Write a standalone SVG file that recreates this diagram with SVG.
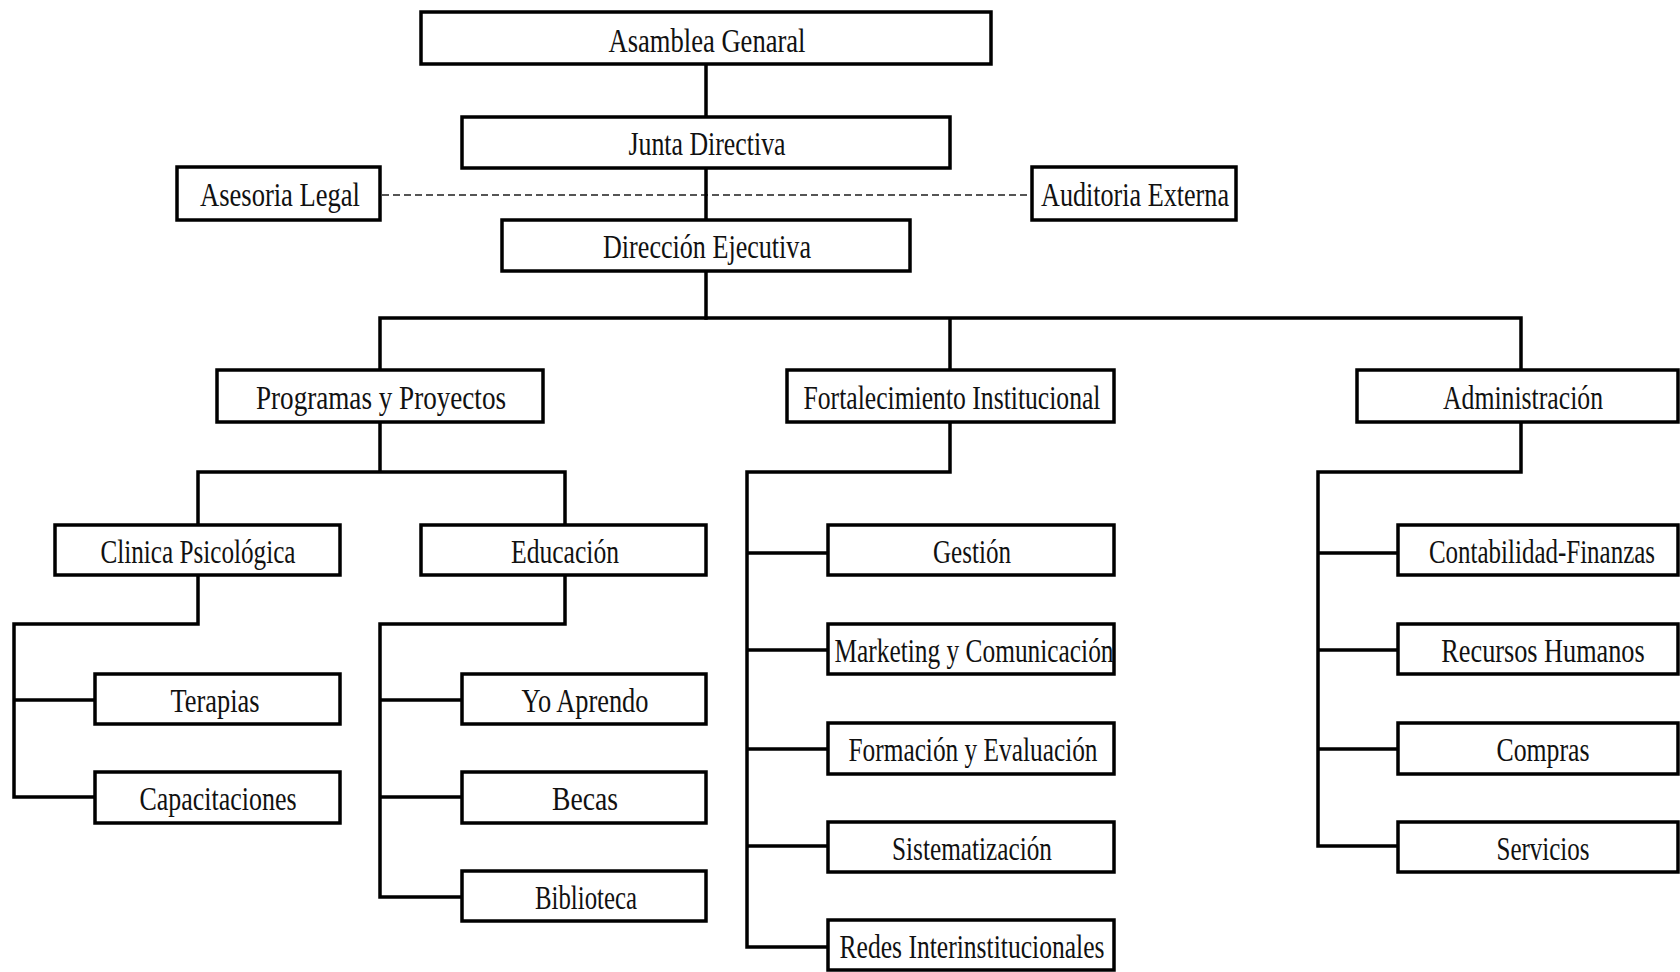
<svg xmlns="http://www.w3.org/2000/svg" width="1680" height="972" viewBox="0 0 1680 972">
<style>
.box{fill:#fff;stroke:#000;stroke-width:3.5}
.t{font-family:"Liberation Serif","Times New Roman",serif;font-size:34px;fill:#111;text-anchor:middle}
.c{fill:none;stroke:#000;stroke-width:3.5;stroke-linecap:square}
.d{fill:none;stroke:#555;stroke-width:2;stroke-dasharray:7 4}
</style>
<rect width="1680" height="972" fill="#fff"/>
<g id="connectors">
<line class="d" x1="382" y1="195" x2="1030" y2="195"/>
<path class="c" d="M706 64V117M706 168V220M706 271V318"/>
<path class="c" d="M380 370V318H1521V370M950 318V370"/>
<path class="c" d="M380 422V472M198 525V472H565V525"/>
<path class="c" d="M198 575V624H14V797H95M14 700H95"/>
<path class="c" d="M565 575V624H380V897H462M380 700H462M380 797H462"/>
<path class="c" d="M950 422V472H747V947H828M747 553H828M747 650H828M747 749H828M747 846H828"/>
<path class="c" d="M1521 422V472H1318V846H1398M1318 553H1398M1318 650H1398M1318 749H1398"/>
</g>
<g id="asamblea"><rect class="box" x="421" y="12" width="570" height="52"/><text class="t" x="707" y="52" textLength="197" lengthAdjust="spacingAndGlyphs">Asamblea Genaral</text></g>
<g id="junta"><rect class="box" x="462" y="117" width="488" height="51"/><text class="t" x="707" y="155" textLength="157" lengthAdjust="spacingAndGlyphs">Junta Directiva</text></g>
<g id="asesoria"><rect class="box" x="177" y="167" width="203" height="53"/><text class="t" x="280" y="206" textLength="160" lengthAdjust="spacingAndGlyphs">Asesoria Legal</text></g>
<g id="auditoria"><rect class="box" x="1032" y="167" width="204" height="53"/><text class="t" x="1135" y="206" textLength="188" lengthAdjust="spacingAndGlyphs">Auditoria Externa</text></g>
<g id="direccion"><rect class="box" x="502" y="220" width="408" height="51"/><text class="t" x="707" y="258" textLength="208" lengthAdjust="spacingAndGlyphs">Dirección Ejecutiva</text></g>
<g id="programas"><rect class="box" x="217" y="370" width="326" height="52"/><text class="t" x="381" y="409" textLength="250" lengthAdjust="spacingAndGlyphs">Programas y Proyectos</text></g>
<g id="fortalecimiento"><rect class="box" x="787" y="370" width="327" height="52"/><text class="t" x="952" y="409" textLength="297" lengthAdjust="spacingAndGlyphs">Fortalecimiento Institucional</text></g>
<g id="administracion"><rect class="box" x="1357" y="370" width="321" height="52"/><text class="t" x="1523" y="409" textLength="160" lengthAdjust="spacingAndGlyphs">Administración</text></g>
<g id="clinica"><rect class="box" x="55" y="525" width="285" height="50"/><text class="t" x="198" y="563" textLength="195" lengthAdjust="spacingAndGlyphs">Clinica Psicológica</text></g>
<g id="educacion"><rect class="box" x="421" y="525" width="285" height="50"/><text class="t" x="565" y="563" textLength="108" lengthAdjust="spacingAndGlyphs">Educación</text></g>
<g id="terapias"><rect class="box" x="95" y="674" width="245" height="50"/><text class="t" x="215" y="712" textLength="89" lengthAdjust="spacingAndGlyphs">Terapias</text></g>
<g id="capacitaciones"><rect class="box" x="95" y="772" width="245" height="51"/><text class="t" x="218" y="810" textLength="157" lengthAdjust="spacingAndGlyphs">Capacitaciones</text></g>
<g id="yoaprendo"><rect class="box" x="462" y="674" width="244" height="50"/><text class="t" x="585" y="712" textLength="127" lengthAdjust="spacingAndGlyphs">Yo Aprendo</text></g>
<g id="becas"><rect class="box" x="462" y="772" width="244" height="51"/><text class="t" x="585" y="810" textLength="66" lengthAdjust="spacingAndGlyphs">Becas</text></g>
<g id="biblioteca"><rect class="box" x="462" y="871" width="244" height="50"/><text class="t" x="586" y="909" textLength="102" lengthAdjust="spacingAndGlyphs">Biblioteca</text></g>
<g id="gestion"><rect class="box" x="828" y="525" width="286" height="50"/><text class="t" x="972" y="563" textLength="78" lengthAdjust="spacingAndGlyphs">Gestión</text></g>
<g id="marketing"><rect class="box" x="828" y="624" width="286" height="50"/><text class="t" x="974" y="662" textLength="279" lengthAdjust="spacingAndGlyphs">Marketing y Comunicación</text></g>
<g id="formacion"><rect class="box" x="828" y="723" width="286" height="51"/><text class="t" x="973" y="761" textLength="249" lengthAdjust="spacingAndGlyphs">Formación y Evaluación</text></g>
<g id="sistematizacion"><rect class="box" x="828" y="822" width="286" height="50"/><text class="t" x="972" y="860" textLength="160" lengthAdjust="spacingAndGlyphs">Sistematización</text></g>
<g id="redes"><rect class="box" x="828" y="920" width="286" height="50"/><text class="t" x="972" y="958" textLength="265" lengthAdjust="spacingAndGlyphs">Redes Interinstitucionales</text></g>
<g id="contabilidad"><rect class="box" x="1398" y="525" width="280" height="50"/><text class="t" transform="translate(1542 563) scale(0.734 1)" x="0" y="0" textLength="308" lengthAdjust="spacingAndGlyphs">Contabilidad-Finanzas</text></g>
<g id="recursos"><rect class="box" x="1398" y="624" width="280" height="50"/><text class="t" transform="translate(1543 662) scale(0.77 1)" x="0" y="0" textLength="264" lengthAdjust="spacingAndGlyphs">Recursos Humanos</text></g>
<g id="compras"><rect class="box" x="1398" y="723" width="280" height="51"/><text class="t" x="1543" y="761" textLength="93" lengthAdjust="spacingAndGlyphs">Compras</text></g>
<g id="servicios"><rect class="box" x="1398" y="822" width="280" height="50"/><text class="t" x="1543" y="860" textLength="93" lengthAdjust="spacingAndGlyphs">Servicios</text></g>
</svg>
